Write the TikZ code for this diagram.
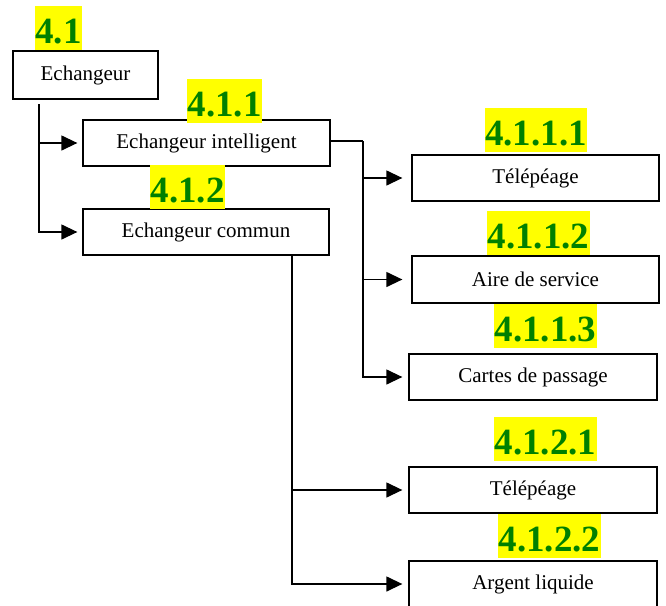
\documentclass[tikz,border=0pt]{standalone}
\usepackage{fontspec}
\setmainfont{Liberation Serif}
\usetikzlibrary{arrows.meta}
\definecolor{lblgreen}{RGB}{0,128,0}
\definecolor{lblyellow}{RGB}{255,255,0}
\begin{document}
\begin{tikzpicture}[x=1pt,y=-1pt,
  box/.style={draw, line width=1.3pt, inner sep=0pt, font=\fontsize{21}{25}\selectfont},
  lbl/.style={fill=lblyellow, text=lblgreen, font=\fontsize{37}{40}\selectfont\bfseries,
    inner xsep=0.5pt, inner ysep=0pt, text height=37pt, text depth=7pt, anchor=base},
  conn/.style={line width=1.3pt},
  arr/.style={line width=1.3pt, -{Triangle[length=16pt,width=15pt]}}]
\useasboundingbox (0,0) rectangle (666,605);

% boxes
\node[box, minimum width=145pt, minimum height=48pt] (e)  at (85.5,75)   {Echangeur};
\node[box, minimum width=247pt, minimum height=46pt] (ei) at (206.5,143) {Echangeur intelligent};
\node[box, minimum width=246pt, minimum height=46pt] (ec) at (206,232)   {Echangeur commun};
\node[box, minimum width=247pt, minimum height=46pt] (t1) at (535.5,178) {Télépéage};
\node[box, minimum width=247pt, minimum height=47pt] (as) at (535.5,279.5) {Aire de service};
\node[box, minimum width=248pt, minimum height=46pt] (cp) at (533,377)   {Cartes de passage};
\node[box, minimum width=248pt, minimum height=46pt] (t2) at (533,490)   {Télépéage};
\node[box, minimum width=248pt, minimum height=46pt] (al) at (533,584)   {Argent liquide};

% labels
\node[lbl] (l1)    at (58.5,43)  {4.1};
\node[lbl] (l11)   at (224.5,116) {4.1.1};
\node[lbl] (l12)   at (187.5,202) {4.1.2};
\node[lbl] (l111)  at (536,145)  {4.1.1.1};
\node[lbl] (l112)  at (538.5,248) {4.1.1.2};
\node[lbl] (l113)  at (545.5,341) {4.1.1.3};
\node[lbl] (l121)  at (545.5,454) {4.1.2.1};
\node[lbl] (l122)  at (549.5,551) {4.1.2.2};

% connectors
\coordinate (c1) at (39,104);
\draw[arr, shorten >=5pt] (c1) |- (ei.west);
\draw[arr, shorten >=5pt] (c1) |- (ec.west);

\coordinate (c2) at (363,141);
\draw[conn] (ei.east |- c2) -- (c2);
\draw[arr, shorten >=9pt] (c2) |- (t1.west);
\draw[arr, shorten >=9pt] (c2) |- (as.west);
\draw[arr, shorten >=6pt] (c2) |- (cp.west);

\coordinate (c3) at (292,255);
\draw[arr, shorten >=6pt] (c3) |- (t2.west);
\draw[arr, shorten >=6pt] (c3) |- (al.west);
\end{tikzpicture}
\end{document}
